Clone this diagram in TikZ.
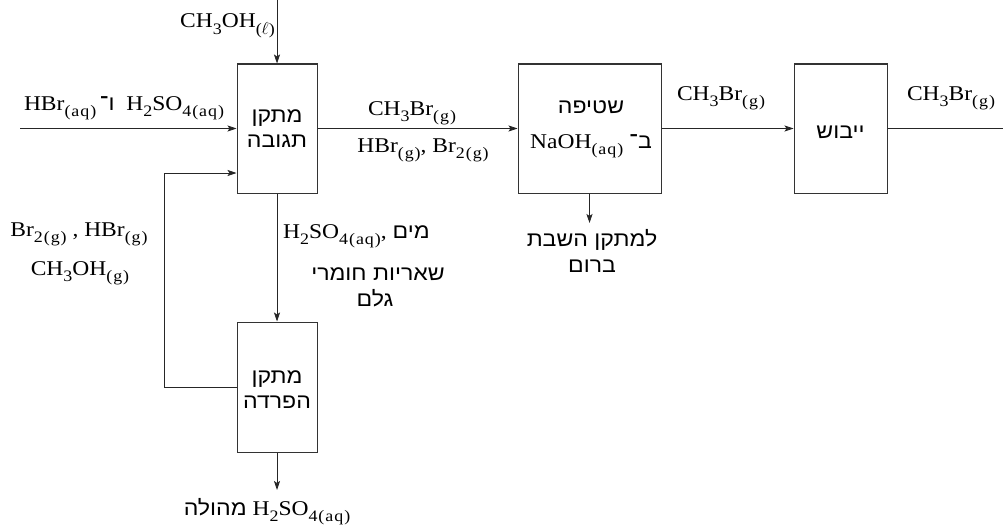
\documentclass[tikz,border=0pt]{standalone}
\usepackage{fontspec}
\setmainfont{Liberation Serif}[FakeStretch=1.12]
\newfontfamily\subfont{Liberation Serif}[FakeStretch=1.12,LetterSpace=6]
\newfontfamily\hebfont[Script=Hebrew,FakeStretch=1.1]{Liberation Sans}
\TeXXeTstate=1
\usetikzlibrary{arrows.meta}
\newcommand\he[1]{{\hebfont\fontsize{21}{25}\selectfont\beginR #1\endR}}
\newcommand\sbs[1]{\raisebox{-6.5pt}{\subfont\fontsize{16}{16}\selectfont #1}}
\begin{document}
\begin{tikzpicture}[x=1pt,y=-1pt, font=\fontsize{21}{25}\selectfont,
  box/.style={draw=black!80, line width=1pt, inner sep=0pt},
  flow/.style={draw=black!85, line width=0.8pt},
  arr/.style={flow, -{Stealth[length=9pt,width=6pt,inset=2pt]}},
  lbl/.style={inner sep=0pt, anchor=base}]
\useasboundingbox (0,0) rectangle (1003,527);

% boxes
\node[box, minimum width=80pt, minimum height=129pt] (reactor) at (277,128.5) {};
\node[box, minimum width=80pt, minimum height=130pt] (separator) at (277,387) {};
\node[box, minimum width=143pt, minimum height=129pt] (washer) at (589.5,128.5) {};
\node[box, minimum width=93pt, minimum height=129pt] (dryer) at (840.5,128.5) {};

% texts inside boxes
\node[lbl] (reactorA) at (277,122) {\he{מתקן}};
\node[lbl] (reactorB) at (277,147) {\he{תגובה}};
\node[lbl] (separatorA) at (277,383) {\he{מתקן}};
\node[lbl] (separatorB) at (277,408) {\he{הפרדה}};
\node[lbl] (washerA) at (591,113) {\he{שטיפה}};
\node[lbl] (washerB) at (591,148) {NaOH\sbs{(aq)}\ \he{ב־}};
\node[lbl] (dryerA) at (840.5,138) {\he{ייבוש}};

% connectors
\coordinate (inL) at (20,128.5);
\coordinate (ch3top) at (277,0);
\coordinate (outR) at (1003,128.5);
\coordinate (washout) at (589.5,223);
\coordinate (sepout) at (277,490);
\coordinate (lp) at (164,173);

\draw[arr] (inL) -- (reactor.west);
\draw[arr] (ch3top) -- (reactor.north);
\draw[arr] (reactor.east) -- (washer.west);
\draw[arr] (washer.east) -- (dryer.west);
\draw[flow] (dryer.east) -- (outR);
\draw[arr] (washer.south) -- (washout);
\draw[arr] (reactor.south) -- (separator.north);
\draw[arr] (separator.south) -- (sepout);
\draw[arr] (separator.west) -| (lp) -- (lp -| reactor.west);

% stream labels
\node[lbl, anchor=base east] (tch3oh) at (275,28) {CH\sbs{3}OH\sbs{($\ell$)}};
\node[lbl] (tin) at (124,110) {HBr\sbs{(aq)}\,\he{ו־}\ \ H\sbs{2}SO\sbs{4(aq)}};
\node[lbl] (tmid1) at (412,115) {CH\sbs{3}Br\sbs{(g)}};
\node[lbl] (tmid2) at (423,152) {HBr\sbs{(g)}, Br\sbs{2(g)}};
\node[lbl] (tout1) at (721,100) {CH\sbs{3}Br\sbs{(g)}};
\node[lbl] (tout2) at (951,100) {CH\sbs{3}Br\sbs{(g)}};
\node[lbl] (twash1) at (592,246) {\he{למתקן השבת}};
\node[lbl] (twash2) at (592,272) {\he{ברום}};
\node[lbl] (trec1) at (79,236) {Br\sbs{2(g)} , HBr\sbs{(g)}};
\node[lbl] (trec2) at (80,275) {CH\sbs{3}OH\sbs{(g)}};
\node[lbl, anchor=base west] (tdown1) at (283,238) {H\sbs{2}SO\sbs{4(aq)}, \he{מים}};
\node[lbl] (tdown2) at (378,280) {\he{שאריות חומרי}};
\node[lbl] (tdown3) at (375,306) {\he{גלם}};
\node[lbl] (tbot) at (267,515) {\he{מהולה}\ H\sbs{2}SO\sbs{4(aq)}};
\end{tikzpicture}
\end{document}
